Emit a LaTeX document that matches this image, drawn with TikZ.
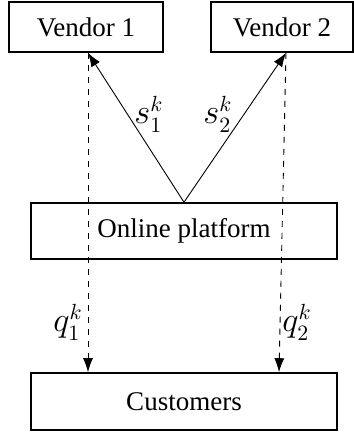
\documentclass[tikz,border=0pt]{standalone}
\usepackage{fontspec}
\setmainfont{Liberation Serif}
\usepackage{tikz}
\usetikzlibrary{arrows.meta,calc}

\tikzset{
  agent/.style={draw,line width=0.8pt,inner sep=0pt,font=\fontsize{13.5}{15}\selectfont},
  flow/.style={line width=0.45pt,-{Latex[length=7pt,width=5pt]}},
  qty/.style={flow,dashed},
  lbl/.style={inner sep=0pt,font=\fontsize{16}{18}\selectfont}
}

\begin{document}
\begin{tikzpicture}[x=0.5pt,y=-0.5pt]
\useasboundingbox (0,0) rectangle (354,436);
% boxes
\node[agent,minimum width=77pt,minimum height=25pt] (v1) at (86,27) {Vendor 1};
\node[agent,minimum width=71pt,minimum height=25pt] (v2) at (282,27) {Vendor 2};
\node[agent,minimum width=153pt,minimum height=28pt] (pl) at (184,231) {Online platform};
\node[agent,minimum width=153pt,minimum height=28.5pt] (cu) at (184,401.5) {Customers};
% supply arrows
\draw[flow] (pl.north) -- ([xshift=1pt]v1.south);
\draw[flow] (pl.north) -- ([xshift=2pt]v2.south);
% quantity arrows
\draw[qty] ([xshift=1pt]v1.south) -- ([xshift=1pt]v1.south |- cu.north);
\draw[qty] ([xshift=2pt]v2.south) -- ([xshift=47.5pt]cu.north);
% labels
\node[lbl] (s1) at (149,114) {$s_1^k$};
\node[lbl] (s2) at (218,114) {$s_2^k$};
\node[lbl] (q1) at (68,322) {$q_1^k$};
\node[lbl] (q2) at (297,322) {$q_2^k$};
\end{tikzpicture}
\end{document}
